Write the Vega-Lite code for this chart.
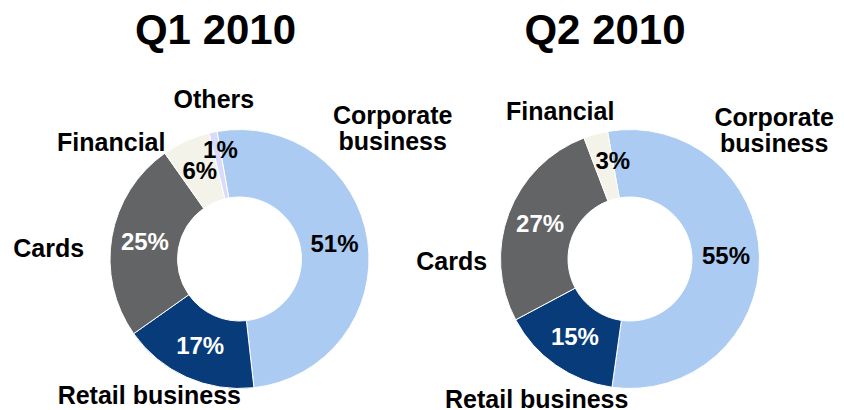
{
  "$schema": "https://vega.github.io/schema/vega-lite/v6.json",
  "background": "white",
  "padding": {"top": 9, "left": 0, "right": 0, "bottom": 0},
  "spacing": 0,
  "bounds": "flush",
  "config": {
    "view": {"stroke": null},
    "text": {"font": "Liberation Sans", "fontSize": 25, "fontWeight": "bold", "color": "black"},
    "title": {"font": "Liberation Sans", "fontSize": 42, "fontWeight": "bold", "color": "black", "anchor": "middle", "frame": "group"}
  },
  "datasets": {
    "q1": [
      {"segment": "Corporate business", "label": "Corporate\nbusiness", "value": 0.51, "k": 1},
      {"segment": "Retail business", "label": "Retail business", "value": 0.17, "k": 2},
      {"segment": "Cards", "label": "Cards", "value": 0.25, "k": 3},
      {"segment": "Financial", "label": "Financial", "value": 0.06, "k": 4},
      {"segment": "Others", "label": "Others", "value": 0.01, "k": 5}
    ],
    "q2": [
      {"segment": "Corporate business", "label": "Corporate\nbusiness", "value": 0.55, "k": 1},
      {"segment": "Retail business", "label": "Retail business", "value": 0.15, "k": 2},
      {"segment": "Cards", "label": "Cards", "value": 0.27, "k": 3},
      {"segment": "Financial", "label": "Financial", "value": 0.03, "k": 4}
    ]
  },
  "hconcat": [
    {
      "width": 479,
      "height": 300,
      "title": {"text": "Q1 2010", "dx": -24, "offset": 35.5},
      "data": {"name": "q1"},
      "transform": [{"stack": "value", "groupby": [], "sort": [{"field": "k", "order": "ascending"}], "as": ["v0", "v1"]}],
      "layer": [
        {
          "mark": {"type": "arc", "innerRadius": 62, "outerRadius": 129.5, "stroke": "white", "strokeWidth": 1},
          "encoding": {
            "theta": {"field": "v0", "type": "quantitative", "scale": {"domain": [0, 1], "range": [-0.1745, 6.1087]}},
            "theta2": {"field": "v1"},
            "color": {"field": "segment", "type": "nominal", "legend": null,
              "scale": {"domain": ["Corporate business", "Retail business", "Cards", "Financial", "Others"],
                        "range": ["#ABCBF3", "#073B7A", "#636466", "#F3F3EA", "#DADAFB"]}}
          }
        },
        {
          "mark": {"type": "text", "radius": 96, "fontSize": 24},
          "encoding": {
            "theta": {"field": "value", "type": "quantitative", "stack": true},
            "order": {"field": "k", "type": "quantitative"},
            "text": {"condition": {"test": "datum.segment === 'Others'", "value": ""}, "field": "value", "type": "quantitative", "format": ".0%"},
            "color": {"condition": {"test": "datum.segment === 'Retail business' || datum.segment === 'Cards'", "value": "white"}, "value": "black"}
          }
        },
        {
          "transform": [{"filter": "datum.segment === 'Others'"}],
          "mark": {"type": "text", "radius": 110, "fontSize": 24},
          "encoding": {"theta": {"field": "v1", "type": "quantitative"}, "text": {"field": "value", "type": "quantitative", "format": ".0%"}}
        },
        {
          "transform": [{"filter": "datum.segment === 'Corporate business'"}],
          "mark": {"type": "text", "radius": 160, "dx": 181, "dy": 15, "lineBreak": "\n", "lineHeight": 26},
          "encoding": {"theta": {"field": "v0", "type": "quantitative"}, "text": {"field": "label"}}
        },
        {
          "transform": [{"filter": "datum.segment === 'Retail business'"}],
          "mark": {"type": "text", "radius": 160, "dx": -108, "dy": -22},
          "encoding": {"theta": {"field": "v0", "type": "quantitative"}, "text": {"field": "label"}}
        },
        {
          "transform": [{"filter": "datum.segment === 'Cards'"}],
          "mark": {"type": "text", "radius": 160, "dx": -60, "dy": -102},
          "encoding": {"theta": {"field": "v0", "type": "quantitative"}, "text": {"field": "label"}}
        },
        {
          "transform": [{"filter": "datum.segment === 'Financial'"}],
          "mark": {"type": "text", "radius": 160, "dx": -36, "dy": 15},
          "encoding": {"theta": {"field": "v0", "type": "quantitative"}, "text": {"field": "label"}}
        },
        {
          "transform": [{"filter": "datum.segment === 'Others'"}],
          "mark": {"type": "text", "radius": 160, "dx": 12, "dy": -3},
          "encoding": {"theta": {"field": "v0", "type": "quantitative"}, "text": {"field": "label"}}
        }
      ]
    },
    {
      "width": 302,
      "height": 300,
      "title": {"text": "Q2 2010", "dx": -25, "offset": 47.5},
      "data": {"name": "q2"},
      "transform": [{"stack": "value", "groupby": [], "sort": [{"field": "k", "order": "ascending"}], "as": ["v0", "v1"]}],
      "layer": [
        {
          "mark": {"type": "arc", "innerRadius": 62, "outerRadius": 129.5, "stroke": "white", "strokeWidth": 1},
          "encoding": {
            "theta": {"field": "v0", "type": "quantitative", "scale": {"domain": [0, 1], "range": [-0.1745, 6.1087]}},
            "theta2": {"field": "v1"},
            "color": {"field": "segment", "type": "nominal", "legend": null,
              "scale": {"domain": ["Corporate business", "Retail business", "Cards", "Financial", "Others"],
                        "range": ["#ABCBF3", "#073B7A", "#636466", "#F3F3EA", "#DADAFB"]}}
          }
        },
        {
          "mark": {"type": "text", "radius": 96, "fontSize": 24},
          "encoding": {
            "theta": {"field": "value", "type": "quantitative", "stack": true},
            "order": {"field": "k", "type": "quantitative"},
            "text": {"condition": {"test": "datum.segment === 'Financial'", "value": ""}, "field": "value", "type": "quantitative", "format": ".0%"},
            "color": {"condition": {"test": "datum.segment === 'Retail business' || datum.segment === 'Cards'", "value": "white"}, "value": "black"}
          }
        },
        {
          "transform": [{"filter": "datum.segment === 'Financial'"}],
          "mark": {"type": "text", "radius": 99, "fontSize": 24},
          "encoding": {"theta": {"field": "v1", "type": "quantitative"}, "text": {"field": "value", "type": "quantitative", "format": ".0%"}}
        },
        {
          "transform": [{"filter": "datum.segment === 'Corporate business'"}],
          "mark": {"type": "text", "radius": 160, "dx": 172, "dy": 17, "lineBreak": "\n", "lineHeight": 26},
          "encoding": {"theta": {"field": "v0", "type": "quantitative"}, "text": {"field": "label"}}
        },
        {
          "transform": [{"filter": "datum.segment === 'Retail business'"}],
          "mark": {"type": "text", "radius": 160, "dx": -71, "dy": -17},
          "encoding": {"theta": {"field": "v0", "type": "quantitative"}, "text": {"field": "label"}}
        },
        {
          "transform": [{"filter": "datum.segment === 'Cards'"}],
          "mark": {"type": "text", "radius": 160, "dx": -37, "dy": -72},
          "encoding": {"theta": {"field": "v0", "type": "quantitative"}, "text": {"field": "label"}}
        },
        {
          "transform": [{"filter": "datum.segment === 'Financial'"}],
          "mark": {"type": "text", "radius": 160, "dx": -13, "dy": 3},
          "encoding": {"theta": {"field": "v0", "type": "quantitative"}, "text": {"field": "label"}}
        }
      ]
    }
  ]
}
